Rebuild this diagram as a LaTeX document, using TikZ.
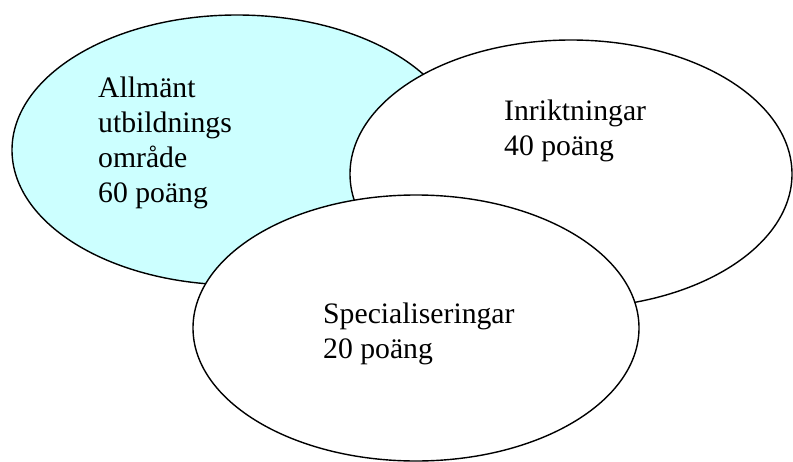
\documentclass[tikz,border=0pt]{standalone}
\usepackage{fontspec}
\setmainfont{Liberation Serif}
\usetikzlibrary{shapes.geometric}
\definecolor{lightcyan}{RGB}{204,255,255}
\begin{document}
\begin{tikzpicture}[x=1pt, y=-1pt]
    \tikzstyle{ring_style} = [draw=black, line width=1.4, ellipse, minimum width=446pt, minimum height=268pt, inner sep=0pt]
    \tikzstyle{label_style} = [anchor=north west, inner sep=0pt, align=left, font=\fontsize{29.7}{35}\selectfont]

    \useasboundingbox (0,0) rectangle (793,461);

    \node[ring_style, fill=lightcyan, minimum width=450pt, minimum height=270pt] (allm) at (237,150) {};
    \node[ring_style, fill=white, minimum width=442pt] (inr) at (571,174) {};
    \node[ring_style, fill=white, minimum height=266pt] (spec) at (416,328) {};

    \node[label_style] (allm_txt) at (98,77) {Allmänt\\utbildnings\\område\\60 poäng};
    \node[label_style] (inr_txt) at (504,100) {Inriktningar\\40 poäng};
    \node[label_style] (spec_txt) at (323,303) {Specialiseringar\\20 poäng};
\end{tikzpicture}
\end{document}
